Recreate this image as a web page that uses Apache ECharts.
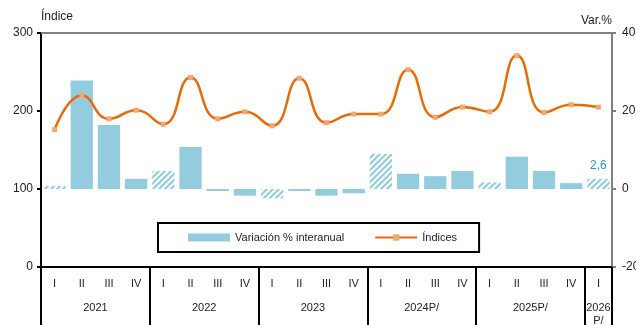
<!DOCTYPE html>
<html>
<head>
<meta charset="utf-8">
<script src="https://cdn.jsdelivr.net/npm/echarts@6/dist/echarts.min.js"></script>
<style>
  html, body { margin: 0; padding: 0; background: #fff; }
  #chart { width: 636px; height: 325px; }
</style>
</head>
<body>
<div id="chart"></div>
<script>
// quarters and years
const quarters = ['I', 'II', 'III', 'IV', 'I', 'II', 'III', 'IV', 'I', 'II', 'III', 'IV',
  'I', 'II', 'III', 'IV', 'I', 'II', 'III', 'IV', 'I']
const yearLabels = ['2021', '2022', '2023', '2024P/', '2025P/', '2026\nP/']
const yearCenters = [2, 6, 10, 14, 18, 20.5]
const yearBounds = [0, 4, 8, 12, 16, 20, 21]

// Variación % interanual (eje derecho)
const variacion = [0.8, 27.8, 16.4, 2.6, 4.6, 10.8, -0.5, -1.7, -2.4, -0.5, -1.7, -1.1,
  9.0, 3.9, 3.3, 4.6, 1.7, 8.3, 4.6, 1.5, 2.6]
// Índices (eje izquierdo)
const indices = [176, 220, 190, 201, 183, 243, 190, 199, 181, 242, 185, 196,
  196, 253, 192, 205, 199, 271, 198, 208, 205]

const blue = '#93cddd'
const orange = '#e46c0a'

// trama diagonal para el primer trimestre
function hatch() {
  const c = document.createElement('canvas')
  c.width = 6
  c.height = 6
  const ctx = c.getContext('2d')
  ctx.fillStyle = '#ffffff'
  ctx.fillRect(0, 0, 6, 6)
  ctx.strokeStyle = blue
  ctx.lineWidth = 2.2
  ctx.beginPath()
  ctx.moveTo(-1, 7); ctx.lineTo(7, -1)
  ctx.moveTo(-4, 4); ctx.lineTo(4, -4)
  ctx.moveTo(2, 10); ctx.lineTo(10, 2)
  ctx.stroke()
  return { image: c, repeat: 'repeat' }
}
const hatchColor = hatch()

const barData = variacion.map((v, i) => {
  const item = { value: v }
  if (quarters[i] === 'I') item.itemStyle = { color: hatchColor }
  if (i === variacion.length - 1) {
    item.label = {
      show: true,
      position: 'top',
      distance: 7,
      color: '#2e8ece',
      fontSize: 12,
      formatter: (p) => p.value.toFixed(1).replace('.', ',')
    }
  }
  return item
})

const chart = echarts.init(document.getElementById('chart'))
const font = 'Liberation Sans, Arial, sans-serif'

chart.setOption({
  animation: false,
  textStyle: { fontFamily: font },
  grid: { left: 41, right: 24, top: 33, bottom: 58, outerBoundsMode: 'none' },
  legend: {
    left: 158,
    top: 223,
    width: 320,
    padding: [9, 22, 9, 30],
    borderColor: '#000',
    borderWidth: 2,
    itemGap: 30,
    itemWidth: 42,
    itemHeight: 8,
    textStyle: { fontSize: 11, color: '#222' },
    data: [
      { name: 'Variación % interanual', icon: 'rect' },
      { name: 'Índices' }
    ]
  },
  xAxis: [
    {
      type: 'category',
      data: quarters,
      position: 'bottom',
      axisLine: { onZero: false, lineStyle: { color: '#000', width: 2 } },
      axisTick: { show: false },
      axisLabel: { color: '#222', fontSize: 11, margin: 11 }
    },
    {
      type: 'value',
      min: 0,
      max: 21,
      position: 'bottom',
      axisLine: { show: false, onZero: false },
      splitLine: { show: false },
      axisTick: {
        show: true,
        customValues: yearBounds,
        length: 58,
        lineStyle: { color: '#000', width: 2 }
      },
      axisLabel: {
        customValues: yearCenters,
        margin: 34,
        color: '#222',
        fontSize: 11,
        lineHeight: 13,
        formatter: (v) => yearLabels[yearCenters.indexOf(v)] || ''
      }
    },
    {
      type: 'value',
      min: 0,
      max: 21,
      position: 'top',
      axisLine: { show: true, onZero: false, lineStyle: { color: '#808080', width: 2 } },
      axisTick: { show: false },
      axisLabel: { show: false },
      splitLine: { show: false }
    }
  ],
  yAxis: [
    {
      type: 'value',
      position: 'left',
      min: 0,
      max: 300,
      interval: 100,
      name: 'Índice',
      nameGap: 10,
      nameTextStyle: { align: 'left', color: '#222', fontSize: 12 },
      axisLine: { show: true, onZero: false, lineStyle: { color: '#000', width: 2 } },
      axisTick: { show: true, length: 4, lineStyle: { color: '#000', width: 2 } },
      axisLabel: { color: '#222', fontSize: 12, margin: 8 },
      splitLine: { show: false }
    },
    {
      type: 'value',
      position: 'right',
      min: -20,
      max: 40,
      interval: 20,
      name: 'Var.%',
      nameGap: 6,
      nameTextStyle: { align: 'right', color: '#222', fontSize: 12 },
      axisLine: { show: true, onZero: false, lineStyle: { color: '#808080', width: 2 } },
      axisTick: { show: true, length: 4, lineStyle: { color: '#808080', width: 2 } },
      axisLabel: { color: '#222', fontSize: 12, margin: 10 },
      splitLine: { show: false }
    }
  ],
  series: [
    {
      name: 'Variación % interanual',
      type: 'bar',
      xAxisIndex: 0,
      yAxisIndex: 1,
      barCategoryGap: '18%',
      itemStyle: { color: blue },
      data: barData
    },
    {
      name: 'Índices',
      type: 'line',
      xAxisIndex: 0,
      yAxisIndex: 0,
      smooth: true,
      symbol: 'rect',
      symbolSize: 5,
      z: 5,
      lineStyle: { color: orange, width: 2.5 },
      itemStyle: { color: '#f2a872' },
      data: indices
    }
  ]
})
</script>
</body>
</html>
